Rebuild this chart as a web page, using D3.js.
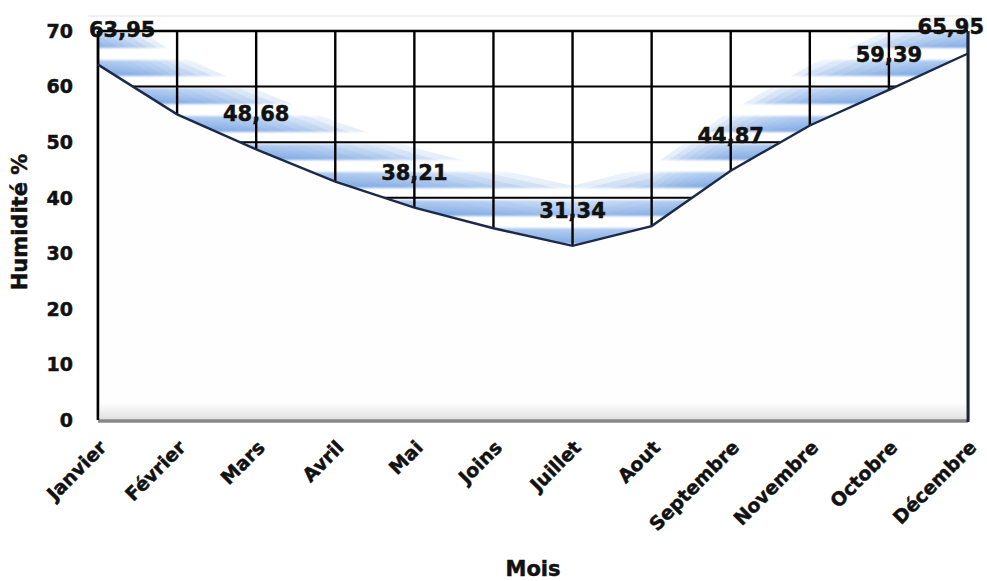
<!DOCTYPE html>
<html>
<head>
<meta charset="utf-8">
<script src="https://cdn.jsdelivr.net/npm/d3@7"></script>
<style>
  html, body { margin: 0; padding: 0; background: #ffffff; }
  svg { display: block; }
  text { font-family: "DejaVu Sans", Verdana, sans-serif; font-weight: bold; fill: #111; stroke: #111; stroke-width: 0.5px; }
</style>
</head>
<body>
<svg id="chart" width="987" height="581"></svg>
<script>
// Monthly relative humidity (%)
const months = ["Janvier", "Février", "Mars", "Avril", "Mai", "Joins", "Juillet",
                "Aout", "Septembre", "Novembre", "Octobre", "Décembre"];
const humidity = [63.95, 55.0, 48.68, 42.9, 38.21, 34.5, 31.34, 34.9, 44.87, 53.0, 59.39, 65.95];
// Printed values (only some months carry a label)
const valueLabels = ["63,95", null, "48,68", null, "38,21", null, "31,34", null, "44,87", null, "59,39", "65,95"];
const yTicks = [0, 10, 20, 30, 40, 50, 60, 70];

const svg = d3.select("#chart");
const plotLeft = 98, plotRight = 968, plotTop = 31, plotBottom = 420;

const x = d3.scalePoint().domain(months).range([plotLeft, plotRight]);
const y = d3.scaleLinear().domain([0, 70]).range([plotBottom, plotTop]);

const defs = svg.append("defs");

// Horizontal blue streaks used just above the curve
const stripeGrad = defs.append("linearGradient")
  .attr("id", "stripeGrad").attr("x1", 0).attr("y1", 0).attr("x2", 0).attr("y2", 1);
stripeGrad.append("stop").attr("offset", "0%").attr("stop-color", "#a9c6ee");
stripeGrad.append("stop").attr("offset", "100%").attr("stop-color", "#6f9fe0");

const pattern = defs.append("pattern")
  .attr("id", "streaks").attr("patternUnits", "userSpaceOnUse")
  .attr("x", 0).attr("y", 4).attr("width", 987).attr("height", 28);
pattern.append("rect").attr("x", 0).attr("y", 0).attr("width", 987).attr("height", 16)
  .attr("fill", "url(#stripeGrad)");

// Fading mask: stacked bands between the curve and lifted copies of it
const pts = months.map((m, i) => [x(m), y(humidity[i])]);
const mask = defs.append("mask").attr("id", "bandMask").attr("maskUnits", "userSpaceOnUse")
  .attr("x", 0).attr("y", 0).attr("width", 987).attr("height", 581);
d3.range(6, 66, 6).forEach(lift => {
  const band = d3.line()(pts.concat(pts.slice().reverse().map(p => [p[0], p[1] - lift])));
  mask.append("path").attr("d", band + "Z").attr("fill", "#fff").attr("fill-opacity", 0.2);
});
defs.append("clipPath").attr("id", "plotClip").append("rect")
  .attr("x", plotLeft).attr("y", plotTop).attr("width", plotRight - plotLeft).attr("height", plotBottom - plotTop);
defs.append("filter").attr("id", "soft").append("feGaussianBlur").attr("stdDeviation", 1.2);

// Floor shading
const floorGrad = defs.append("linearGradient")
  .attr("id", "floorGrad").attr("x1", 0).attr("y1", 0).attr("x2", 0).attr("y2", 1);
floorGrad.append("stop").attr("offset", "0%").attr("stop-color", "#ffffff");
floorGrad.append("stop").attr("offset", "100%").attr("stop-color", "#e0e0e0");

// faint frame line above the plot
svg.append("line").attr("x1", 88).attr("x2", 972).attr("y1", 16).attr("y2", 16)
  .attr("stroke", "#ececec").attr("stroke-width", 1.5);

// streaks
svg.append("g").attr("clip-path", "url(#plotClip)")
  .append("g").attr("mask", "url(#bandMask)")
  .append("rect").attr("x", plotLeft).attr("y", plotTop).attr("width", plotRight - plotLeft).attr("height", plotBottom - plotTop)
  .attr("fill", "url(#streaks)").attr("filter", "url(#soft)");

// grid
const grid = svg.append("g");
grid.selectAll("line.h").data(yTicks.filter(d => d > 0)).join("line")
  .attr("x1", plotLeft).attr("x2", plotRight)
  .attr("y1", d => y(d)).attr("y2", d => y(d))
  .attr("stroke", "#000").attr("stroke-width", d => d === 70 ? 2.5 : 2);
grid.selectAll("line.v").data(months).join("line")
  .attr("x1", d => x(d)).attr("x2", d => x(d))
  .attr("y1", plotTop).attr("y2", plotBottom)
  .attr("stroke", "#000").attr("stroke-width", 2.4);

// area under the curve
const area = d3.area().x((d, i) => x(months[i])).y0(plotBottom).y1(d => y(d));
svg.append("path").datum(humidity).attr("d", area).attr("fill", "#fefefe");

// floor
svg.append("rect").attr("x", plotLeft + 2).attr("y", plotBottom - 18).attr("width", plotRight - plotLeft - 4).attr("height", 18)
  .attr("fill", "url(#floorGrad)");
svg.append("line").attr("x1", plotLeft).attr("x2", plotRight).attr("y1", plotBottom + 1).attr("y2", plotBottom + 1)
  .attr("stroke", "#888").attr("stroke-width", 3.5);

// axes
svg.append("line").attr("x1", plotLeft).attr("x2", plotLeft).attr("y1", plotTop).attr("y2", plotBottom)
  .attr("stroke", "#000").attr("stroke-width", 2.5);
svg.append("line").attr("x1", plotRight).attr("x2", plotRight).attr("y1", plotTop).attr("y2", plotBottom + 2)
  .attr("stroke", "#1c2538").attr("stroke-width", 3);

// humidity curve
const line = d3.line().x((d, i) => x(months[i])).y(d => y(d));
svg.append("path").datum(humidity).attr("d", line)
  .attr("fill", "none").attr("stroke", "#1b2a4a").attr("stroke-width", 2.4);

// y tick labels
svg.append("g").selectAll("text").data(yTicks).join("text")
  .attr("x", 73).attr("y", d => y(d)).attr("dy", "0.36em")
  .attr("text-anchor", "end").attr("font-size", 19)
  .text(d => d);

// x tick labels
svg.append("g").selectAll("text").data(months).join("text")
  .attr("transform", d => `translate(${x(d) + 5},${plotBottom + 24}) rotate(-45)`)
  .attr("text-anchor", "end").attr("font-size", 19).attr("dy", "0.35em")
  .text(d => d);

// value labels
svg.append("g").selectAll("text")
  .data(humidity.map((v, i) => ({ v, i, label: valueLabels[i] })).filter(d => d.label))
  .join("text")
  .attr("x", d => {
    const px = x(months[d.i]);
    if (d.i === 0) return px - 9;
    if (d.i === months.length - 1) return px + 16;
    return px;
  })
  .attr("y", d => Math.max(y(d.v) - 28, 34))
  .attr("text-anchor", d => d.i === 0 ? "start" : d.i === months.length - 1 ? "end" : "middle")
  .attr("font-size", 21)
  .text(d => d.label);

// axis titles
svg.append("text").attr("transform", `translate(27,222) rotate(-90)`)
  .attr("text-anchor", "middle").attr("font-size", 21).text("Humidité %");
svg.append("text").attr("x", 533).attr("y", 576)
  .attr("text-anchor", "middle").attr("font-size", 21).text("Mois");
</script>
</body>
</html>
